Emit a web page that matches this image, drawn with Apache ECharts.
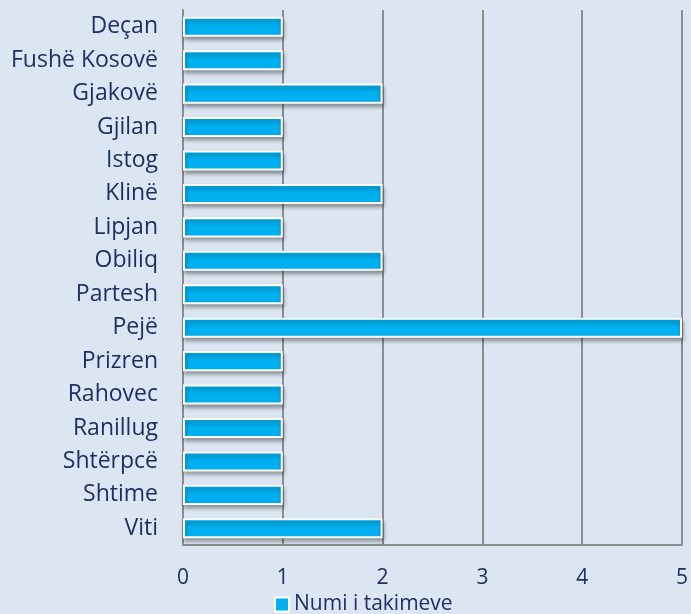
<!DOCTYPE html>
<html>
<head>
<meta charset="utf-8">
<script src="https://cdn.jsdelivr.net/npm/echarts@6/dist/echarts.min.js"></script>
<style>
html, body { margin: 0; padding: 0; background: #dce6f2; }
#chart { width: 691px; height: 614px; }
</style>
</head>
<body>
<div id="chart"></div>
<script>
// kategoritë (komunat) dhe numri i takimeve
var komunat = ['Deçan', 'Fushë Kosovë', 'Gjakovë', 'Gjilan', 'Istog', 'Klinë', 'Lipjan', 'Obiliq',
    'Partesh', 'Pejë', 'Prizren', 'Rahovec', 'Ranillug', 'Shtërpcë', 'Shtime', 'Viti'];
var takimet = [1, 1, 2, 1, 1, 2, 1, 2, 1, 5, 1, 1, 1, 1, 1, 2];
var seriaEmri = 'Numi i takimeve';

var txtColor = '#1f2f66';
var font = 'Open Sans';
var myChart = echarts.init(document.getElementById('chart'));
var option = {
    backgroundColor: '#dce6f2',
    textStyle: { fontFamily: font },
    grid: { left: 183, right: 8, top: 10, bottom: 69 },
    legend: {
        top: 594,
        left: 274,
        padding: 0,
        data: [seriaEmri],
        itemWidth: 14,
        itemHeight: 14,
        icon: 'rect',
        itemGap: 4,
        textStyle: { color: txtColor, fontSize: 21, fontFamily: font }
    },
    xAxis: {
        type: 'value',
        min: 0,
        max: 5,
        interval: 1,
        axisLine: { show: true, lineStyle: { color: '#8c8c8c', width: 2 } },
        axisTick: { show: false },
        splitLine: { lineStyle: { color: '#8c8c8c', width: 2 } },
        axisLabel: { color: txtColor, fontSize: 21, margin: 23 }
    },
    yAxis: {
        type: 'category',
        inverse: true,
        data: komunat,
        axisLine: { show: true, lineStyle: { color: '#8c8c8c', width: 2 } },
        axisTick: { show: false },
        axisLabel: { color: txtColor, fontSize: 23, margin: 25 }
    },
    series: [{
        name: seriaEmri,
        type: 'bar',
        data: takimet,
        barWidth: '60%',
        itemStyle: {
            color: '#00b0f0',
            borderColor: '#ffffff',
            borderWidth: 2,
            shadowColor: 'rgba(0,0,0,0.35)',
            shadowBlur: 4,
            shadowOffsetX: 1,
            shadowOffsetY: 3
        }
    }]
};
myChart.setOption(option);
</script>
</body>
</html>
